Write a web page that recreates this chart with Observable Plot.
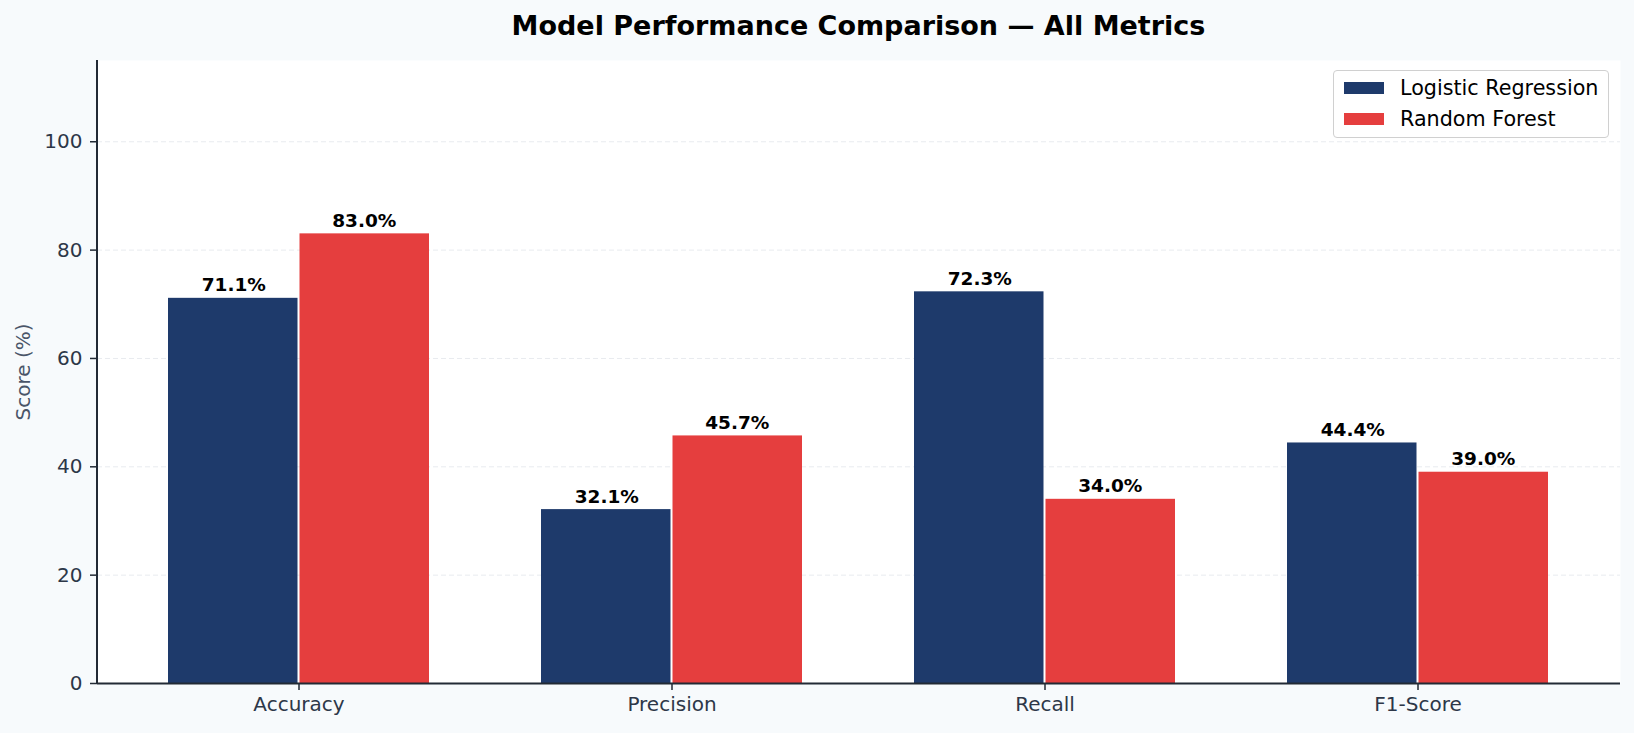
<!DOCTYPE html>
<html>
<head>
<meta charset="utf-8">
<script src="https://cdn.jsdelivr.net/npm/d3@7"></script>
<script src="https://cdn.jsdelivr.net/npm/@observablehq/plot@0.6"></script>
<style>
  html, body { margin: 0; padding: 0; background: #f7fafc; }
  #wrap { position: relative; width: 1634px; height: 733px; background: #f7fafc; font-family: "DejaVu Sans", sans-serif; }
  #title { position: absolute; left: 97px; width: 1523px; top: 12px; line-height: 27px; font-size: 27px; font-weight: bold; text-align: center; color: #000; z-index: 2; }
  #legend { position: absolute; left: 1333px; top: 70px; width: 274px; height: 66px; background: rgba(255,255,255,0.9); border: 1.5px solid #d0d0d0; border-radius: 4px; z-index: 2; }
  .sw { position: absolute; left: 10px; width: 40px; height: 12px; }
  .lt { position: absolute; left: 66px; font-size: 20.7px; line-height: 20px; color: #000; white-space: nowrap; }
  #chart { position: absolute; left: 0; top: 0; }
</style>
</head>
<body>
<div id="wrap">
  <div id="chart"></div>
  <div id="title"></div>
  <div id="legend"></div>
</div>
<script>
const metrics = ["Accuracy", "Precision", "Recall", "F1-Score"];
const models = ["Logistic Regression", "Random Forest"];
const lrScores = [71.1, 32.1, 72.3, 44.4];
const rfScores = [83.0, 45.7, 34.0, 39.0];
const modelColors = ["#1e3a6b", "#e53e3e"];
const yTicks = [0, 20, 40, 60, 80, 100];
const titleText = "Model Performance Comparison — All Metrics";
const yLabel = "Score (%)";

const lrData = metrics.map((m, i) => ({metric: m, model: models[0], value: lrScores[i]}));
const rfData = metrics.map((m, i) => ({metric: m, model: models[1], value: rfScores[i]}));

const base = {
  width: 1634,
  height: 733,
  marginTop: 60,
  marginBottom: 50,
  marginLeft: 97,
  marginRight: 14,
  x: {domain: metrics, paddingInner: 0.3, paddingOuter: 0.188, label: null},
  y: {domain: [0, 115], label: null},
  color: {domain: models, range: modelColors},
  style: {background: "transparent", fontFamily: "DejaVu Sans", fontSize: "20px", color: "#2d3748", overflow: "visible"}
};

// probe pass to read the band width from Plot's own x scale
const probe = Plot.plot({...base, marks: [Plot.barY(lrData, {x: "metric", y: "value"})]});
const bw = probe.scale("x").bandwidth;

const fmt = d => d.value.toFixed(1) + "%";

const chart = Plot.plot({
  ...base,
  marks: [
    Plot.frame({fill: "white", stroke: null}),
    Plot.gridY(yTicks, {stroke: "#e8ebef", strokeOpacity: 1, strokeDasharray: "5,3", strokeWidth: 1}),
    Plot.barY(lrData, {x: "metric", y: "value", fill: "model", insetRight: bw / 2 + 1}),
    Plot.barY(rfData, {x: "metric", y: "value", fill: "model", insetLeft: bw / 2 + 1}),
    Plot.text(lrData, {x: "metric", y: "value", text: fmt, dx: -bw / 4, dy: -7, lineAnchor: "bottom", fontWeight: "bold", fontSize: 18.5, fill: "#000"}),
    Plot.text(rfData, {x: "metric", y: "value", text: fmt, dx: bw / 4, dy: -7, lineAnchor: "bottom", fontWeight: "bold", fontSize: 18.5, fill: "#000"}),
    Plot.axisY({ticks: yTicks, tickSize: 7, tickPadding: 8, label: null, stroke: "#222a35", strokeWidth: 1.5}),
    Plot.axisX({tickSize: 7, tickPadding: 6, label: null, stroke: "#222a35", strokeWidth: 1.5}),
    Plot.text([yLabel], {frameAnchor: "left", textAnchor: "middle", rotate: -90, dx: -74, text: d => d, fill: "#4a5568", fontSize: 20}),
    Plot.ruleY([0], {stroke: "#222a35", strokeWidth: 2})
  ]
});

document.getElementById("chart").appendChild(chart);

// left spine along the y scale's range
const ys = chart.scale("y");
d3.select(chart).append("line")
  .attr("x1", base.marginLeft).attr("x2", base.marginLeft)
  .attr("y1", ys.range[0]).attr("y2", ys.range[1])
  .attr("stroke", "#222a35").attr("stroke-width", 2);

document.getElementById("title").textContent = titleText;

const legend = document.getElementById("legend");
models.forEach((m, i) => {
  const sw = document.createElement("div");
  sw.className = "sw";
  sw.style.top = (11 + i * 31) + "px";
  sw.style.background = modelColors[i];
  legend.appendChild(sw);
  const t = document.createElement("div");
  t.className = "lt";
  t.style.top = (7 + i * 31) + "px";
  t.textContent = m;
  legend.appendChild(t);
});
</script>
</body>
</html>
